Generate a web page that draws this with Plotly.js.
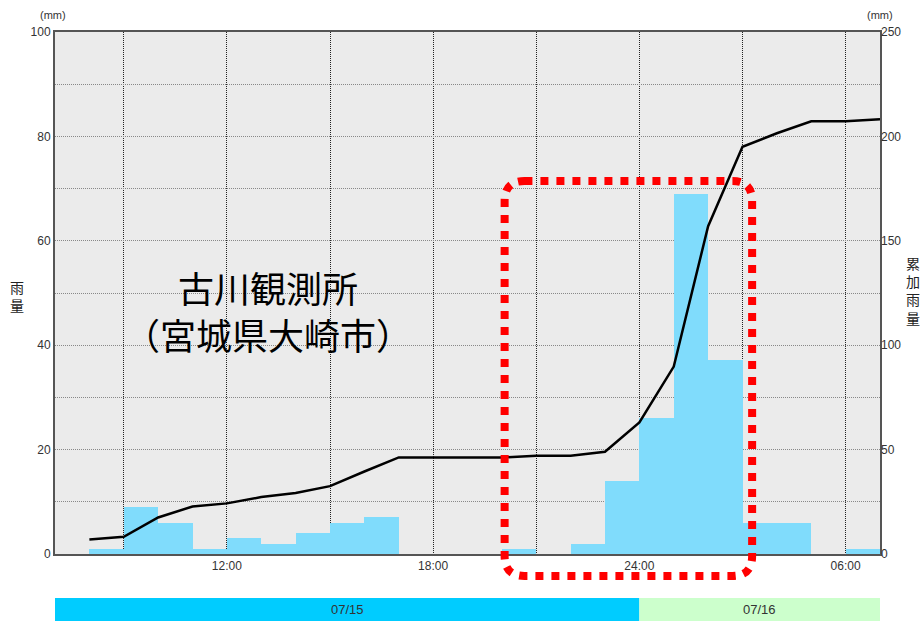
<!DOCTYPE html>
<html>
<head>
<meta charset="utf-8">
<script src="https://cdn.plot.ly/plotly-3.0.1.min.js"></script>
<style>html,body{margin:0;padding:0;background:#fff;}#chart{width:921px;height:621px;}</style>
</head>
<body>
<div id="chart"></div>
<script>
// Hourly rainfall (mm), bar start hours (hours since 00:00 of 07/15)
const rainHours = [8,9,10,11,12,13,14,15,16,17,18,19,20,21,22,23,24,25,26,27,28,29,30];
const rainfall  = [1.0,9.0,6.0,1.0,3.0,2.0,4.0,6.0,7.0,0,0,0,1.0,0,2.0,14.0,26.0,69.0,37.2,6.0,6.0,0,1.0];
// Cumulative rainfall (mm, right axis)
const cumHours = [8,9,10,11,12,13,14,15,16,17,18,19,20,21,22,23,24,25,26,27,28,29,30,31];
const cumRain  = [7.0,8.25,17.5,22.75,24.25,27.25,29.25,32.5,39.5,46.25,46.25,46.25,46.25,47.0,47.0,49.0,63.0,89.75,157.0,195.0,201.5,207.25,207.25,208.25];
// Axis ticks
const xTickVals = [9,12,15,18,21,24,27,30];
const xTickText = ['','12:00','','18:00','','24:00','','06:00'];
const yTickVals = [0,10,20,30,40,50,60,70,80,90,100];
const yTickText = ['0','','20','','40','','60','','80','','100'];
const y2TickVals = [0,50,100,150,200,250];
// Dates
const dateLabels = ['07/15','07/16'];
const dateStarts = [7,24];
const dateEnds = [24,31];
const dateColors = ['#00ccff','#ccffcc'];
const xMin = 7, xMax = 31;
// Highlight box (paper coordinates)
const box = {x0:0.545, x1:0.845, y0:-0.042, y1:0.7146, rx:0.024, ry:0.038};

const traces = [
  {type:'bar', x:rainHours, y:rainfall, width:1, offset:0, marker:{color:'#80dcfc', line:{width:0}}, yaxis:'y', hoverinfo:'skip'},
  {type:'scatter', mode:'lines', x:cumHours, y:cumRain, yaxis:'y2', line:{color:'#000', width:2.5}, hoverinfo:'skip'}
];

const shapes = [];
const annotations = [];
for (let i=0;i<dateLabels.length;i++){
  const px0 = (dateStarts[i]-xMin)/(xMax-xMin), px1 = (dateEnds[i]-xMin)/(xMax-xMin);
  shapes.push({type:'rect', xref:'paper', yref:'paper', x0:px0, x1:px1, y0:-0.13, y1:-0.0843, fillcolor:dateColors[i], line:{width:0}});
  annotations.push({xref:'paper', yref:'paper', x:(px0+px1)/2, y:-0.107, xanchor:'center', yanchor:'middle', text:dateLabels[i], showarrow:false, font:{family:'Liberation Sans, Arial', size:13, color:'#333'}});
}
const b = box;
const path = `M ${b.x0+b.rx},${b.y1} L ${b.x1-b.rx},${b.y1} Q ${b.x1},${b.y1} ${b.x1},${b.y1-b.ry} L ${b.x1},${b.y0+b.ry} Q ${b.x1},${b.y0} ${b.x1-b.rx},${b.y0} L ${b.x0+b.rx},${b.y0} Q ${b.x0},${b.y0} ${b.x0},${b.y0+b.ry} L ${b.x0},${b.y1-b.ry} Q ${b.x0},${b.y1} ${b.x0+b.rx},${b.y1} Z`;
shapes.push({type:'path', xref:'paper', yref:'paper', path:path, line:{color:'#ff0000', width:8, dash:'dot'}, layer:'above'});

const cjk = 'Noto Sans CJK JP';
annotations.push(
  {xref:'paper', yref:'paper', x:0.258, y:0.4674, xanchor:'center', yanchor:'middle', align:'center', text:'古川観測所<br>（宮城県大崎市）', showarrow:false, font:{family:cjk, size:36, color:'#000'}},
  {xref:'paper', yref:'paper', x:-0.0455, y:0.494, xanchor:'center', yanchor:'middle', text:'雨<br>量', showarrow:false, font:{family:cjk, size:14, color:'#222'}},
  {xref:'paper', yref:'paper', x:1.04, y:0.505, xanchor:'center', yanchor:'middle', text:'累<br>加<br>雨<br>量', showarrow:false, font:{family:cjk, size:14, color:'#222'}},
  {xref:'paper', yref:'paper', x:-0.003, y:1.033, xanchor:'center', yanchor:'middle', text:'(mm)', showarrow:false, font:{family:'Liberation Sans, Arial', size:11, color:'#333'}},
  {xref:'paper', yref:'paper', x:1.0, y:1.033, xanchor:'center', yanchor:'middle', text:'(mm)', showarrow:false, font:{family:'Liberation Sans, Arial', size:11, color:'#333'}}
);

const tickFont = {family:'Liberation Sans, Arial', size:12, color:'#333'};
const layout = {
  width:921, height:621,
  margin:{l:55, r:41, t:32, b:67},
  paper_bgcolor:'#fff', plot_bgcolor:'#ebebeb',
  showlegend:false, bargap:0,
  xaxis:{range:[xMin,xMax], tickvals:xTickVals, ticktext:xTickText, showgrid:true, gridcolor:'#222', griddash:'1px,1px', gridwidth:1,
         showline:true, linecolor:'#555', linewidth:2, mirror:true, zeroline:false, ticks:'', tickfont:tickFont, fixedrange:true},
  yaxis:{range:[0,100], tickvals:yTickVals, ticktext:yTickText, showgrid:true, gridcolor:'#888', griddash:'1px,1px', gridwidth:1,
         showline:true, linecolor:'#555', linewidth:2, mirror:true, zeroline:false, ticks:'', tickfont:tickFont, fixedrange:true},
  yaxis2:{range:[0,250], overlaying:'y', side:'right', tickvals:y2TickVals, showgrid:false, zeroline:false, showline:false, ticks:'', tickfont:tickFont, fixedrange:true},
  shapes:shapes,
  annotations:annotations
};
Plotly.newPlot('chart', traces, layout, {staticPlot:true, displayModeBar:false});
</script>
</body>
</html>
